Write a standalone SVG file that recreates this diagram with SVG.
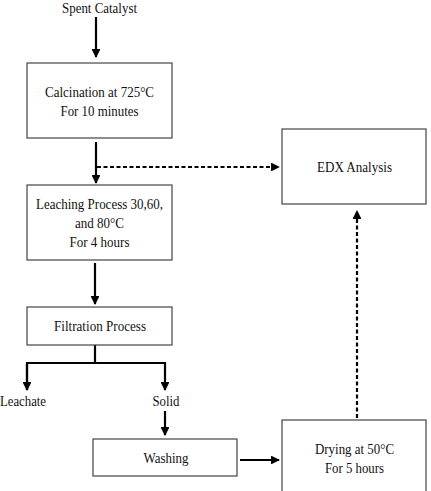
<svg xmlns="http://www.w3.org/2000/svg" width="431" height="491" viewBox="0 0 431 491">
<style>
.box{fill:#fff;stroke:#444;stroke-width:1.2}
.t{font-family:"Liberation Serif","Times New Roman",serif;font-size:15px;fill:#111;text-anchor:middle}
.s{fill:none;stroke:#000;stroke-width:2.2}
.d{fill:none;stroke:#000;stroke-width:2.2;stroke-dasharray:4,2.5}
</style>
<defs>
<marker id="ah" viewBox="0 0 10 10" refX="9" refY="5" markerWidth="4" markerHeight="4" orient="auto" markerUnits="strokeWidth">
<path d="M0,0 L10,5 L0,10 z" fill="#000"/>
</marker>
</defs>
<rect width="431" height="491" fill="#fff"/>
<g id="connectors">
<line class="s" x1="96" y1="17" x2="96" y2="57" marker-end="url(#ah)"/>
<line class="s" x1="96" y1="142" x2="96" y2="183" marker-end="url(#ah)"/>
<line class="d" x1="97" y1="167" x2="279" y2="167" marker-end="url(#ah)"/>
<line class="s" x1="95" y1="263" x2="95" y2="304" marker-end="url(#ah)"/>
<polyline class="s" points="95,345 95,363"/>
<polyline class="s" points="27,390 27,363 165,363 165,390" marker-end="url(#ah)"/>
<line class="s" x1="27" y1="364" x2="27" y2="390" marker-end="url(#ah)"/>
<line class="s" x1="165" y1="411" x2="165" y2="435" marker-end="url(#ah)"/>
<line class="s" x1="240" y1="460" x2="279" y2="460" marker-end="url(#ah)"/>
<line class="d" x1="357" y1="418" x2="357" y2="211" marker-end="url(#ah)"/>
</g>
<g id="spent"><text class="t" x="99.5" y="13" textLength="75" lengthAdjust="spacingAndGlyphs">Spent Catalyst</text></g>
<g id="calcination">
<rect class="box" x="27" y="63" width="145" height="75"/>
<text class="t" x="99.5" y="97" textLength="109" lengthAdjust="spacingAndGlyphs">Calcination at 725°C</text>
<text class="t" x="99.5" y="116" textLength="78" lengthAdjust="spacingAndGlyphs">For 10 minutes</text>
</g>
<g id="leaching">
<rect class="box" x="27" y="185" width="145" height="75"/>
<text class="t" x="99.5" y="209" textLength="127" lengthAdjust="spacingAndGlyphs">Leaching Process 30,60,</text>
<text class="t" x="99.5" y="228" textLength="49" lengthAdjust="spacingAndGlyphs">and 80°C</text>
<text class="t" x="99.5" y="247" textLength="60" lengthAdjust="spacingAndGlyphs">For 4 hours</text>
</g>
<g id="edx">
<rect class="box" x="282" y="129" width="144" height="75"/>
<text class="t" x="354.5" y="172" textLength="75" lengthAdjust="spacingAndGlyphs">EDX Analysis</text>
</g>
<g id="filtration">
<rect class="box" x="27" y="307" width="145" height="38"/>
<text class="t" x="100" y="331" textLength="92" lengthAdjust="spacingAndGlyphs">Filtration Process</text>
</g>
<g id="leachate"><text class="t" x="23" y="406" textLength="46" lengthAdjust="spacingAndGlyphs">Leachate</text></g>
<g id="solid"><text class="t" x="166" y="406" textLength="27" lengthAdjust="spacingAndGlyphs">Solid</text></g>
<g id="washing">
<rect class="box" x="93" y="439" width="144" height="37"/>
<text class="t" x="166" y="463" textLength="45" lengthAdjust="spacingAndGlyphs">Washing</text>
</g>
<g id="drying">
<rect class="box" x="282" y="420" width="144" height="75"/>
<text class="t" x="354.5" y="454" textLength="79" lengthAdjust="spacingAndGlyphs">Drying at 50°C</text>
<text class="t" x="354.5" y="473" textLength="59" lengthAdjust="spacingAndGlyphs">For 5 hours</text>
</g>
</svg>
